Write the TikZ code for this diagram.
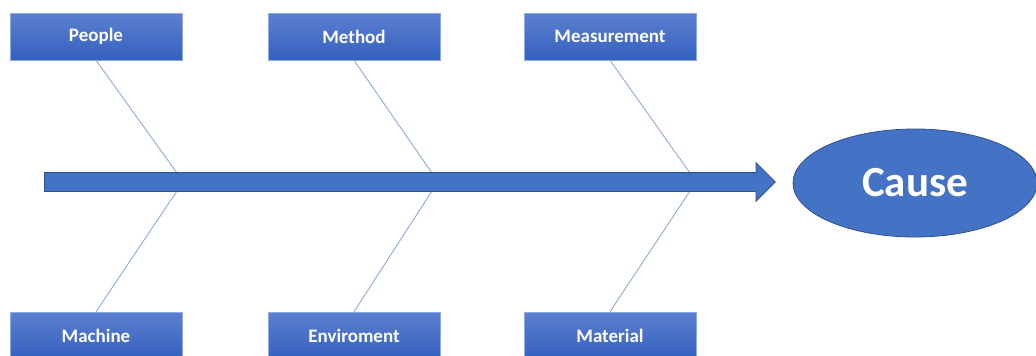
\documentclass[tikz,border=0pt]{standalone}
\usepackage{fontspec}
\setmainfont{Carlito}
\usetikzlibrary{positioning,shapes.geometric,shapes.arrows}
\definecolor{fb_blue}{RGB}{68,114,196}
\definecolor{fb_dark}{RGB}{47,82,143}
\definecolor{fb_light}{RGB}{143,170,220}
\tikzset{
	fb_base/.style={font=\bfseries, text=white, inner sep=0pt},
	fb_box/.style={fb_base, rectangle, draw=fb_light, line width=0.6pt, top color={rgb,255:red,92;green,128;blue,208}, bottom color={rgb,255:red,52;green,96;blue,190}, minimum width=172pt, minimum height=47pt, font=\bfseries\fontsize{19}{22}\selectfont, on grid},
	fb_cause/.style={fb_base, ellipse, draw=fb_dark, line width=0.8pt, fill=fb_blue, minimum width=244pt, minimum height=108pt, font=\bfseries\fontsize{43}{50}\selectfont},
	fb_spine/.style={single arrow, draw=fb_dark, line width=0.8pt, fill=fb_blue, minimum height=731pt, single arrow head extend=10pt, single arrow head indent=0pt, inner xsep=0pt, inner ysep=9pt, shape border rotate=0},
	fb_bone/.style={draw=fb_light, line width=0.9pt}
}
\begin{document}
\begin{tikzpicture}[x=1pt, y=-1pt]
	\useasboundingbox (0,0) rectangle (1036,356);
	\clip (0,0) rectangle (1036,356);

	% top and bottom causes
	\node [fb_box] (people) at (96,36.5) {People};
	\node [fb_box, right = 258pt of people] (method) {Method};
	\node [fb_box, right = 256pt of method] (measurement) {Measurement};
	\node [fb_box, below = 299pt of people] (machine) {Machine};
	\node [fb_box, below = 299pt of method] (enviroment) {Enviroment};
	\node [fb_box, below = 299pt of measurement] (material) {Material};

	% bones, drawn under the spine
	\foreach \up/\down/\x in {people/machine/177, method/enviroment/432, measurement/material/690} {
		\coordinate (\up-j) at (\x,173);
		\coordinate (\down-j) at (\x,191);
		\path [fb_bone] (\up.south) -- (\up-j);
		\path [fb_bone] (\down-j) -- (\down.north);
	}

	% spine and head
	\node [fb_spine, anchor=tail] (spine) at (44,182) {};
	\node [fb_cause] (cause) at (915,183) {Cause};
\end{tikzpicture}
\end{document}
